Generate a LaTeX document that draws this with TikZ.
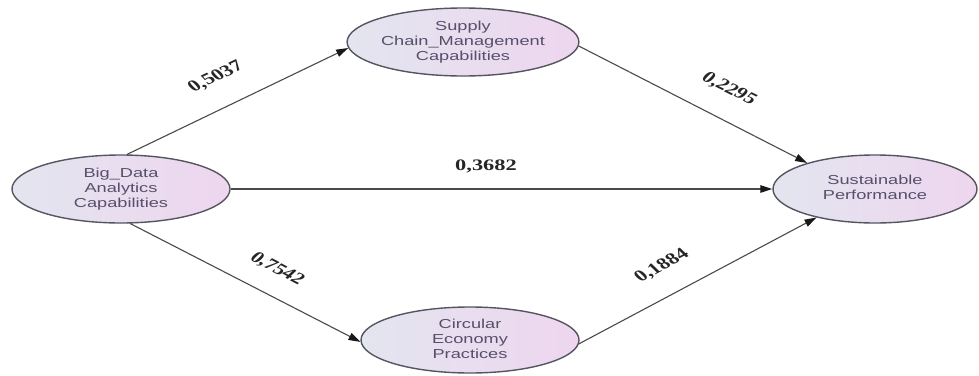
\documentclass[tikz,border=0pt]{standalone}
\usepackage{fontspec}
\usepackage{graphicx}
\setmainfont{Liberation Sans}
\newfontfamily\labfont{Liberation Serif}
\usetikzlibrary{arrows.meta,shapes.geometric}
\definecolor{fillL}{HTML}{E3E5EF}
\definecolor{fillR}{HTML}{EED6EF}
\definecolor{edgeC}{HTML}{55555F}
\definecolor{txtC}{HTML}{574F6B}
\definecolor{lineC}{HTML}{4A4A4A}
\newcommand\widetext[1]{\scalebox{1.4}[1]{\begin{tabular}{@{}c@{}}#1\end{tabular}}}
\begin{document}
\begin{tikzpicture}[x=1pt,y=-1pt,
  construct/.style={ellipse, draw=edgeC, line width=1.4pt, left color=fillL, right color=fillR,
    inner sep=0pt, text=txtC, font=\fontsize{13}{15}\selectfont},
  link/.style={draw=lineC, line width=1.1pt, -{Triangle[length=12pt,width=7.5pt,color=black!90]}},
  coef/.style={font=\labfont\bfseries\fontsize{16}{18}\selectfont, text=black!85, inner sep=0pt, transform shape}
]
\useasboundingbox (0,0) rectangle (979,375);
\node[construct, minimum width=218pt, minimum height=68pt] (bda) at (121,189) {\widetext{Big\_Data\\Analytics\\Capabilities}};
\node[construct, minimum width=218pt, minimum height=68pt] (scm) at (463,42) {\widetext{Supply\\Chain\_Management\\Capabilities}};
\node[construct, minimum width=204pt, minimum height=68pt] (sp) at (875,189) {\widetext{Sustainable\\Performance}};
\node[construct, minimum width=218pt, minimum height=66pt] (cep) at (470,340) {\widetext{Circular\\Economy\\Practices}};

\draw[link] (bda.80) -- (scm.183);
\draw[link] (scm.-2) -- (sp.159);
\draw[link] (bda.east) -- (sp.west);
\draw[link] (bda.-75) -- (cep.181);
\draw[link] (cep.-2) -- (sp.206);

\node[coef, shift={(216,77)}, xscale=1.4, rotate=33.8] (c1) at (0,0) {0,5037};
\node[coef, shift={(729,89)}, xscale=1.4, rotate=-34.9] (c2) at (0,0) {0,2295};
\node[coef, shift={(486,166)}, xscale=1.4] (c3) at (0,0) {0,3682};
\node[coef, shift={(277,269)}, xscale=1.4, rotate=-36.5] (c4) at (0,0) {0,7542};
\node[coef, shift={(662,266)}, xscale=1.4, rotate=36.4] (c5) at (0,0) {0,1884};
\end{tikzpicture}
\end{document}
